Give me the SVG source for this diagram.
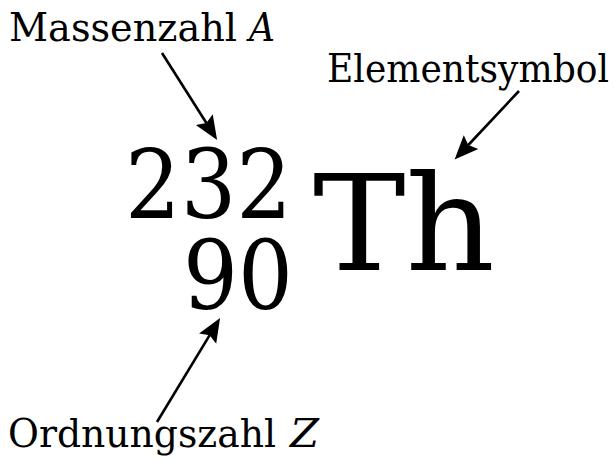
<svg xmlns="http://www.w3.org/2000/svg" width="615" height="462" viewBox="0 0 615 462">
  <style>
    .lbl { font-family: "DejaVu Serif", serif; font-size: 39px; fill: #000; }
    .it { font-style: italic; }
    .big { font-family: "DejaVu Serif", serif; fill: #000; }
    .conn { stroke: #000; stroke-width: 2.6; fill: none; marker-end: url(#ah); }
  </style>
  <defs>
    <marker id="ah" markerUnits="userSpaceOnUse" markerWidth="26" markerHeight="22" refX="4" refY="10" orient="auto" viewBox="0 0 26 20">
      <path d="M0,0 L24,10 L0,20 L4,10 z" fill="#000"/>
    </marker>
  </defs>
  <rect width="615" height="462" fill="#fff"/>
  <g id="massenzahl">
    <text class="lbl" x="9" y="41" textLength="228" lengthAdjust="spacingAndGlyphs">Massenzahl</text>
    <text class="lbl it" x="249" y="41" textLength="26" lengthAdjust="spacingAndGlyphs">A</text>
  </g>
  <g id="elementsymbol">
    <text class="lbl" x="327" y="82" textLength="282" lengthAdjust="spacingAndGlyphs">Elementsymbol</text>
  </g>
  <g id="ordnungszahl">
    <text class="lbl" x="8" y="447" textLength="268" lengthAdjust="spacingAndGlyphs">Ordnungszahl</text>
    <text class="lbl it" x="290" y="447" textLength="29" lengthAdjust="spacingAndGlyphs">Z</text>
  </g>
  <g id="mass-number">
    <text class="big" x="125" y="218" font-size="96" textLength="167" lengthAdjust="spacingAndGlyphs">232</text>
  </g>
  <g id="atomic-number">
    <text class="big" x="183" y="309" font-size="96" textLength="110" lengthAdjust="spacingAndGlyphs">90</text>
  </g>
  <g id="symbol">
    <text class="big" x="313" y="270" font-size="133" textLength="182" lengthAdjust="spacingAndGlyphs">Th</text>
  </g>
  <g id="connectors">
    <path class="conn" d="M162,53 L206.4,123"/>
    <path class="conn" d="M519,91 L468.3,145"/>
    <path class="conn" d="M157,422 L209.7,335.2"/>
  </g>
</svg>
